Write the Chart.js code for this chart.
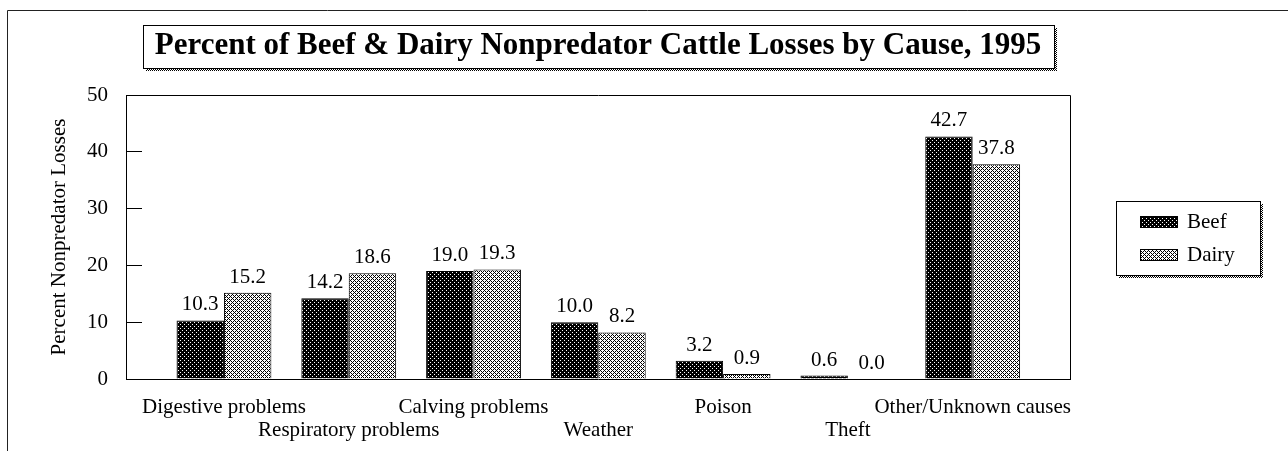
<!DOCTYPE html>
<html>
<head>
<meta charset="utf-8">
<title>Nonpredator Cattle Losses by Cause, 1995</title>
<script src="https://cdn.jsdelivr.net/npm/chart.js@4.4.1/dist/chart.umd.min.js"></script>
<style>
    body { margin: 0; background: #fff; }
    canvas { display: block; }
</style>
</head>
<body>
<canvas id="chart" width="1288" height="451"></canvas>
<script>
// values (percent of nonpredator losses)
const causes = ['Digestive problems', 'Respiratory problems', 'Calving problems', 'Weather',
                'Poison', 'Theft', 'Other/Unknown causes'];
const beef = [10.3, 14.2, 19.0, 10.0, 3.2, 0.6, 42.7];
const dairy = [15.2, 18.6, 19.3, 8.2, 0.9, 0.0, 37.8];
const series_names = ['Beef', 'Dairy'];
const y_ticks = [0, 10, 20, 30, 40, 50];
const title_text = 'Percent of Beef & Dairy Nonpredator Cattle Losses by Cause, 1995';
const y_title = 'Percent Nonpredator Losses';

const serif = '"Liberation Serif", "Times New Roman", serif';
const canvas = document.getElementById('chart');
const ctx = canvas.getContext('2d');

function make_pattern(size, is_black) {
    //tiny tile, black pixels where is_black says so
    const c = document.createElement('canvas');
    c.width = size;
    c.height = size;
    const g = c.getContext('2d');
    g.fillStyle = '#fff';
    g.fillRect(0, 0, size, size);
    g.fillStyle = '#000';
    for(let y=0; y<size; ++y) {
        for(let x=0; x<size; ++x) {
            if(is_black(x, y)) g.fillRect(x, y, 1, 1);
        }
    }
    return ctx.createPattern(c, 'repeat');
}

// dark speckle for beef, light checker for dairy, plain checker for the shadows
const beef_fill = make_pattern(4, (x,y) => !((x===0 && y===0) || (x===2 && y===2)));
const dairy_fill = make_pattern(4, (x,y) => (x+y)%2 === 0 && !((x===0 && y===0) || (x===2 && y===2)));
const shadow_fill = make_pattern(2, (x,y) => (x+y)%2 === 0);

function shadow_box(c, x, y, w, h) {
    //outlined box with a dotted drop shadow on right and bottom
    c.fillStyle = shadow_fill;
    c.fillRect(x+w, y+3, 3, h);
    c.fillRect(x+3, y+h, w, 3);
    c.strokeStyle = '#000';
    c.lineWidth = 1;
    c.strokeRect(x+0.5, y+0.5, w, h);
}

const frame_plugin = {
    id: 'frame',
    afterDraw(chart) {
        const c = chart.ctx;
        const a = chart.chartArea;
        c.save();

        //outer page frame
        c.strokeStyle = '#222';
        c.lineWidth = 1;
        c.beginPath();
        c.moveTo(7.5, chart.height);
        c.lineTo(7.5, 10.5);
        c.lineTo(chart.width, 10.5);
        c.stroke();

        //top and right edge of the plot box
        c.strokeStyle = '#000';
        c.beginPath();
        c.moveTo(Math.round(a.left)+0.5, Math.round(a.top)+0.5);
        c.lineTo(Math.round(a.right)+0.5, Math.round(a.top)+0.5);
        c.lineTo(Math.round(a.right)+0.5, Math.round(a.bottom)+0.5);
        c.stroke();

        //box round the title
        const t = chart.options.plugins.title;
        c.font = 'bold ' + t.font.size + 'px ' + serif;
        const tw = c.measureText(title_text).width;
        const cx = (a.left + a.right) / 2;
        shadow_box(c, Math.round(cx - tw/2 - 12), 25, Math.round(tw + 24), 43);

        //legend
        const lx = 1116, ly = 201;
        shadow_box(c, lx, ly, 144, 74);
        c.font = '21px ' + serif;
        c.textBaseline = 'alphabetic';
        c.textAlign = 'left';
        chart.data.datasets.forEach((ds, i) => {
            const sy = ly + 15 + i*33;
            c.fillStyle = ds.backgroundColor;
            c.fillRect(lx+24, sy, 37, 11);
            c.strokeStyle = '#000';
            c.strokeRect(lx+24.5, sy+0.5, 37, 11);
            c.fillStyle = '#000';
            c.fillText(ds.label, lx+71, sy+12);
        });
        c.restore();
    },
    afterDatasetsDraw(chart) {
        //value labels over each bar
        const c = chart.ctx;
        c.save();
        c.font = '21px ' + serif;
        c.fillStyle = '#000';
        c.textAlign = 'center';
        c.textBaseline = 'alphabetic';
        chart.data.datasets.forEach((ds, i) => {
            chart.getDatasetMeta(i).data.forEach((bar, j) => {
                c.fillText(ds.data[j].y.toFixed(1), bar.x, bar.y - 10);
            });
        });
        c.restore();
    }
};

Chart.defaults.font.family = serif;
Chart.defaults.color = '#000';

const chart = new Chart(ctx, {
    type: 'bar',
    data: {
        datasets: [
            {
                label: series_names[0],
                data: beef.map((v,i) => ({x: i, y: v})),
                backgroundColor: beef_fill,
                borderColor: '#000',
                borderWidth: 1
            },
            {
                label: series_names[1],
                data: dairy.map((v,i) => ({x: i, y: v})),
                backgroundColor: dairy_fill,
                borderColor: '#000',
                borderWidth: 1
            }
        ]
    },
    options: {
        responsive: false,
        animation: false,
        layout: { padding: {left: 0, right: 218, top: 0, bottom: 0} },
        categoryPercentage: 0.76,
        barPercentage: 1,
        plugins: {
            legend: { display: false },
            tooltip: { enabled: false },
            title: {
                display: true,
                text: title_text,
                fullSize: false,
                color: '#000',
                font: { family: serif, size: 31, weight: 'bold', lineHeight: 1.2 },
                padding: { top: 27.4, bottom: 30.4 }
            }
        },
        scales: {
            x: {
                type: 'linear',
                bounds: 'data',
                offset: false,
                min: -0.785,
                max: 6.78,
                grid: { display: false, drawTicks: false, offset: false },
                border: { display: true, color: '#000' },
                afterBuildTicks: (s) => { s.ticks = causes.map((c,i) => ({value: i})); },
                afterFit: (s) => { s.height = 72; },
                ticks: {
                    autoSkip: false,
                    maxRotation: 0,
                    padding: 16.5,
                    font: { size: 21, lineHeight: 1.1 },
                    // alternate rows so the long names do not collide
                    callback: (v) => v % 2 ? ['', causes[v]] : causes[v]
                }
            },
            y: {
                min: 0,
                max: 50,
                afterBuildTicks: (s) => { s.ticks = y_ticks.map(v => ({value: v})); },
                afterFit: (s) => { s.width = 126; },
                grid: { drawOnChartArea: false, tickLength: -16, color: '#000' },
                border: { color: '#000' },
                ticks: { padding: 34, font: { size: 21 } },
                title: {
                    display: true,
                    text: y_title,
                    font: { size: 21 },
                    padding: { top: 47, bottom: 0 }
                }
            }
        }
    },
    plugins: [frame_plugin]
});
</script>
</body>
</html>
